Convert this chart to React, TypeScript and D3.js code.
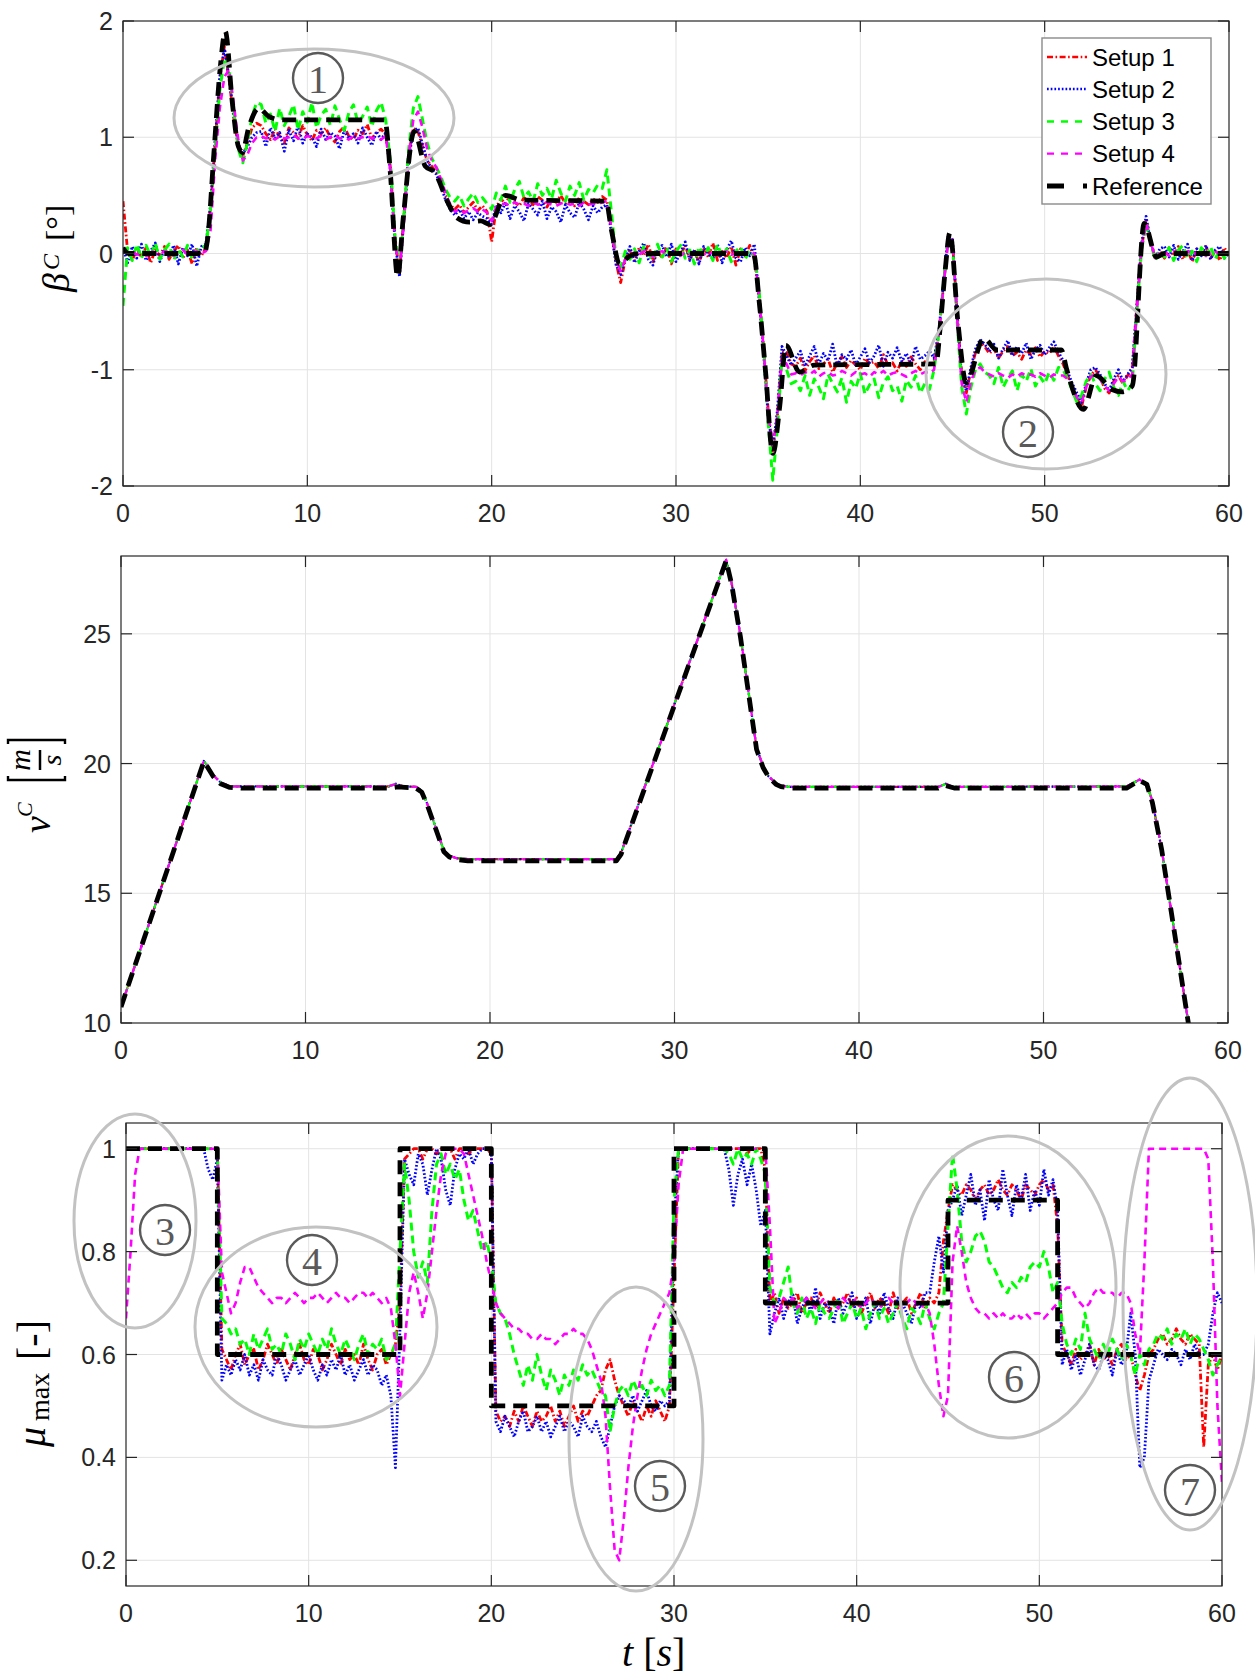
import React from "react";
import * as d3 from "d3";

// ---------------- DATA ----------------
const STEP = 0.25; // seconds between samples inside a piece
type Piece = [number, number[]]; // [start time, values]

const timeTicks = [0, 10, 20, 30, 40, 50, 60];
const betaTicks = [-2, -1, 0, 1, 2];
const speedTicks = [10, 15, 20, 25];
const muTicks = [0.2, 0.4, 0.6, 0.8, 1];
const seriesNames = ["Setup 1", "Setup 2", "Setup 3", "Setup 4", "Reference"];

// β^C of the setups, in hundredths of a degree
const betaS1: Piece[] = [
  [0, [45, 2, -6, 4, -3, 5, -8, 3, -2, 6, -5, 2, 7, -4, 3, -9, 5, -2]],
  [4.5, [5, 40, 95, 150, 178, 150, 118, 92, 84, 95, 108, 112]],
  [7.5, [110, 103, 98, 107, 101, 95, 108, 104, 99, 110, 102, 97, 106, 103, 108, 100, 96, 105, 109, 101, 98, 106, 103, 111, 99, 104, 107, 102]],
  [14.5, [75, 15, -18, 35, 85, 108, 105, 92, 80, 75, 70, 62, 50, 42]],
  [18, [38, 42, 35, 40, 44, 37, 41, 36]],
  [20, [10, 40, 47, 43, 50, 44, 41, 48, 45, 42, 49, 46, 40, 47, 44, 50, 43, 46, 41, 48, 45, 42, 47, 44, 49, 46]],
  [26.5, [20, -8, -25, -5]],
  [27.5, [3, -6, 5, -2, 8, -7, 2, -4, 6, -9, 4, -1, 7, -5, 3, -8, 5, -3, 9, -6, 2, -4, 6, -10, 4, -2, 7, -5, -35]],
  [34.75, [-80, -135, -170, -140, -85, -85, -95]],
  [36.5, [-97, -90, -101, -93, -88, -99, -95, -91, -102, -94, -89, -98, -92, -96, -100, -90, -95, -93, -99, -87, -96, -94, -101, -92, -97, -89, -95, -100, -93, -96]],
  [44, [-92, -70, -30, 12, 10, -50, -105, -120, -100, -85, -76, -80]],
  [47, [-86, -82, -90, -84, -80, -88, -85, -91, -83, -87, -81, -89, -84, -86, -80, -88]],
  [51, [-95, -105, -115, -125, -132, -115, -105, -100, -106, -116, -120, -110, -105, -112, -105, -100, -45, 5, 28, 12, -5, 2]],
  [56.5, [-4, 5, -2, 6, -5, 3, -7, 4, -1, 6, -4, 2, -6, 5, -2]],
];
const betaS2: Piece[] = [
  [0, [5, -8, 6, -4, 8, -6, 2, 9, -7, 4, -3, 7, -9, 5, -2, 8, -11, 6]],
  [4.5, [8, 42, 98, 152, 176, 152, 120, 94, 86, 92, 100, 104]],
  [7.5, [105, 92, 108, 99, 104, 88, 106, 97, 110, 95, 103, 100, 92, 107, 98, 104, 101, 90, 106, 99, 103, 95, 108, 100, 93, 105, 98, 104]],
  [14.5, [72, 12, -20, 32, 82, 105, 108, 94, 80, 73, 68, 58, 46, 38]],
  [18, [33, 38, 30, 36, 29, 35, 32, 30]],
  [20, [25, 42, 35, 44, 30, 41, 36, 28, 43, 38, 33, 45, 30, 40, 36, 27, 42, 35, 31, 44, 38, 29, 41, 35, 40, 42]],
  [26.5, [18, -10, -18, -5]],
  [27.5, [6, -8, 2, 9, -5, -10, 4, 7, -3, 8, -7, 1, 10, -6, 3, -9, 6, 0, -5, 8, -8, 3, 11, -4, -7, 5, -2, 8, -38]],
  [34.75, [-85, -140, -168, -135, -80, -88, -96]],
  [36.5, [-90, -84, -97, -88, -80, -95, -86, -92, -78, -98, -87, -91, -83, -96, -89, -82, -94, -88, -79, -97, -85, -90, -81, -93, -86, -95, -80, -91, -88, -84]],
  [44, [-90, -68, -28, 14, 12, -52, -108, -118, -98, -82, -74, -78]],
  [47, [-84, -78, -90, -82, -75, -88, -80, -86, -77, -91, -83, -79, -87, -81, -76, -85]],
  [51, [-92, -102, -112, -120, -128, -112, -100, -98, -104, -112, -118, -108, -100, -110, -104, -98, -45, 8, 32, 10, -4, 4]],
  [56.5, [6, -3, 7, -5, 2, 8, -6, 4, -2, 7, -5, 3, 6, -4, 1]],
];
const betaS3: Piece[] = [
  [0, [-45, 5, -6, 8, -4, 7, -2, 9, -5, 3, 8, -6, 4, -3, 7, -5, 2, 6]],
  [4.5, [6, 38, 90, 140, 168, 160, 125, 90, 78, 95, 118, 130]],
  [7.5, [128, 112, 120, 105, 125, 110, 118, 128, 106, 122, 113, 130, 108, 119, 124, 110, 127, 115, 106, 121, 128, 112, 118, 126, 109, 123, 130, 115]],
  [14.5, [80, 15, -15, 35, 90, 125, 135, 115, 95, 82, 74, 66, 55, 48]],
  [18, [45, 50, 41, 47, 52, 44, 48, 43]],
  [20, [38, 52, 46, 58, 44, 55, 62, 48, 53, 45, 60, 50, 56, 47, 63, 52, 45, 58, 50, 61, 46, 55, 52, 59, 56, 72]],
  [26.5, [35, -5, -12, 2]],
  [27.5, [-5, 4, -8, 6, 0, -6, 8, -3, 5, -7, 2, 7, -4, 3, -9, 6, -2, 5, -6, 8, -3, 4, -7, 2, 6, -5, 3, -2, -30]],
  [34.75, [-80, -145, -195, -150, -90, -100, -112]],
  [36.5, [-110, -118, -105, -122, -108, -115, -125, -104, -112, -119, -107, -128, -110, -116, -103, -121, -113, -108, -124, -111, -106, -118, -114, -127, -109, -115, -105, -120, -112, -117]],
  [44, [-100, -70, -28, 10, 8, -58, -115, -138, -115, -100, -95, -102]],
  [47, [-105, -112, -98, -115, -107, -101, -118, -104, -110, -99, -114, -106, -112, -102, -109, -98]],
  [51, [-100, -108, -118, -128, -122, -110, -104, -112, -118, -108, -102, -115, -122, -110, -118, -112, -50, 2, 26, 10, -6, 3]],
  [56.5, [-3, 5, -6, 3, 7, -4, 2, -7, 5, -2, 6, -5, 3, -4, 2]],
];
const betaS4: Piece[] = [
  [0, [3, 0, 2, -1, 1, -2, 3, 0, -1, 2, 1, -2, 0, 3, -1, 1, 2, 0]],
  [4.5, [2, 20, 80, 125, 152, 158, 130, 98, 80, 85, 95, 100]],
  [7.5, [101, 99, 100, 98, 101, 99, 100, 102, 99, 98, 101, 100, 99, 101, 98, 100, 102, 99, 100, 98, 101, 99, 100, 101, 99, 100, 98, 101]],
  [14.5, [72, 10, -15, 28, 85, 115, 122, 108, 90, 80, 74, 64, 52, 42]],
  [18, [36, 38, 35, 37, 39, 36, 38, 35]],
  [20, [28, 40, 42, 43, 41, 44, 42, 43, 41, 44, 42, 43, 44, 42, 41, 43, 44, 42, 43, 41, 44, 42, 43, 42, 44, 45]],
  [26.5, [22, -5, -15, -5]],
  [27.5, [-2, 1, -1, 2, 0, -3, 1, 2, -1, 0, 2, -2, 1, 0, -1, 2, -1, 1, 0, -2, 1, 2, -1, 0, 1, -1, 2, 0, -35]],
  [34.75, [-82, -138, -165, -140, -90, -95, -104]],
  [36.5, [-103, -105, -102, -104, -101, -106, -103, -102, -105, -104, -101, -103, -105, -102, -104, -103, -106, -102, -104, -101, -105, -103, -102, -104, -106, -103, -101, -104, -102, -103]],
  [44, [-100, -70, -30, 8, 12, -55, -112, -128, -110, -100, -98, -102]],
  [47, [-104, -106, -103, -105, -107, -104, -106, -103, -105, -104, -106, -103, -105, -107, -104, -105]],
  [51, [-105, -108, -114, -124, -128, -115, -106, -104, -108, -114, -118, -112, -106, -110, -108, -104, -48, 4, 26, 10, -4, 1]],
  [56.5, [1, -2, 2, 0, -1, 2, -1, 1, 0, -2, 1, 2, -1, 0, 1]],
];
// reference β^C [°]
const refBetaT = [0, 0.3, 4.4, 4.6, 4.93, 5.27, 5.55, 5.93, 6.26, 6.48, 6.8, 7.37, 7.9, 8.6, 14.2, 14.5, 14.9, 15.2, 15.8, 16.4, 16.9, 17.65, 18.1, 18.8, 19.4, 19.9, 20.75, 21.6, 26.2, 26.5, 26.95, 27.5, 28, 34.2, 34.53, 34.86, 35.25, 35.63, 35.96, 36.7, 37.5, 44.1, 44.35, 44.6, 44.86, 45.3, 45.74, 46.7, 47.4, 50.9, 51.2, 52.1, 52.8, 53.65, 54.2, 54.75, 55.4, 56.07, 56.5, 60];
const refBetaV = [0.05, 0, 0, 0.14, 0.86, 1.59, 1.91, 1.3, 0.92, 0.87, 1.07, 1.25, 1.18, 1.15, 1.15, 0.7, -0.2, 0.3, 1.05, 0.75, 0.7, 0.43, 0.31, 0.27, 0.28, 0.25, 0.5, 0.46, 0.45, 0.2, -0.09, -0.02, 0, 0, -0.44, -1.02, -1.72, -1.31, -0.79, -1.02, -0.96, -0.95, -0.6, -0.15, 0.18, -0.6, -1.11, -0.73, -0.83, -0.83, -1.0, -1.34, -1.05, -1.17, -1.19, -1.14, 0.26, -0.03, 0, 0];

// v^C [m/s]
const refSpeedT = [0, 4.49, 4.7, 5.0, 5.4, 5.9, 6.5, 14.5, 15.0, 16.0, 16.3, 16.6, 17.0, 17.5, 17.8, 18.2, 18.8, 26.85, 27.1, 32.8, 33.1, 33.57, 34.45, 34.8, 35.1, 35.5, 35.77, 36.3, 44.3, 44.7, 45.2, 54.5, 55.2, 55.6, 55.9, 56.4, 57.26, 57.85, 58.0];
const refSpeedV = [10.62, 20.08, 19.85, 19.5, 19.22, 19.08, 19.05, 19.05, 19.1, 19.05, 18.9, 18.4, 17.6, 16.6, 16.4, 16.3, 16.25, 16.25, 16.5, 27.82, 26.9, 24.9, 20.54, 19.85, 19.48, 19.2, 19.11, 19.05, 19.05, 19.15, 19.05, 19.05, 19.35, 19.2, 18.5, 16.7, 12.74, 10.0, 9.3];
const setupSpeedT = [0, 4.49, 4.7, 5.0, 5.4, 5.9, 14.5, 14.9, 15.3, 16.0, 16.3, 16.6, 17.0, 17.5, 17.8, 18.2, 18.8, 26.85, 27.1, 32.8, 33.1, 33.57, 34.45, 34.8, 35.1, 35.5, 35.77, 36.3, 44.3, 44.7, 45.1, 54.5, 55.2, 55.6, 55.9, 56.4, 57.26, 57.85, 58.0];
const setupSpeedV = [10.62, 20.1, 19.9, 19.55, 19.27, 19.12, 19.12, 19.22, 19.12, 19.1, 18.95, 18.45, 17.65, 16.65, 16.45, 16.35, 16.32, 16.32, 16.55, 27.85, 26.95, 24.95, 20.6, 19.9, 19.5, 19.25, 19.15, 19.1, 19.1, 19.22, 19.1, 19.12, 19.38, 19.22, 18.55, 16.72, 12.76, 10.0, 9.3];

// μ_max of the setups, in hundredths
const muS1: Piece[] = [
  [0, [100, 100, 100, 100, 100, 100, 100, 100, 100, 100, 100, 100, 100, 100, 100, 100, 100, 100, 100, 100, 100]],
  [5.25, [61, 59, 57, 60, 62, 58, 60, 61, 57, 59, 62, 60, 58, 61, 59, 57, 60, 62, 59, 58, 61, 60, 57, 59, 62, 60, 58, 61, 59, 60, 58, 62, 59, 57, 60, 61, 58, 60, 62]],
  [15, [70, 98, 99, 100, 100, 98, 100, 100, 99, 100, 100, 100, 98, 100, 100, 99, 100, 100, 100, 100, 99]],
  [20.25, [49, 47, 48, 46, 49, 47, 50, 48, 46, 49, 47, 48, 50, 47, 49, 46, 48, 50, 47, 49, 48, 50, 52, 53, 57]],
  [26.5, [59, 55, 52, 50, 48, 51, 49, 47, 50, 48, 51, 49, 47, 50]],
  [30, [75, 100, 100, 100, 100, 100, 100, 100, 100, 100, 100, 100, 100, 100, 100, 100, 99, 100, 100, 100, 96]],
  [35.25, [70, 72, 68, 71, 69, 70, 72, 68, 70, 71, 69, 72, 70, 68, 71, 69, 70, 72, 69, 71, 68, 70, 72, 69, 71, 70, 68, 72, 69, 70, 71, 68, 70, 72, 69, 71, 70, 72, 82]],
  [45, [88, 93, 92, 91, 93, 92, 90, 92, 93, 91, 92, 94, 92, 91, 93, 92, 90, 93, 92, 91, 93, 94, 92, 93, 85]],
  [51.25, [62, 60, 58, 61, 59, 60, 62, 58, 61, 59, 60, 58, 61, 62, 59, 60]],
  [55.25, [56, 53, 56, 60]],
  [56.25, [61, 63, 64, 62, 63, 65, 63, 62, 64, 63, 62]],
  [59, [42, 58, 60, 57, 60]],
];
const muS2: Piece[] = [
  [0, [100, 100, 100, 100, 100, 100, 100, 100, 100, 100, 100, 100, 100, 100, 100, 100, 100, 100, 96, 94, 98]],
  [5.25, [55, 58, 56, 59, 57, 60, 56, 58, 55, 59, 57, 56, 60, 58, 55, 57, 59, 56, 58, 60, 57, 55, 58, 56, 59, 57, 60, 56, 58, 55, 57, 59, 56, 58, 57, 54, 56, 52, 38]],
  [15, [65, 98, 95, 93, 99, 97, 91, 96, 100, 98, 92, 89, 96, 99, 98, 100, 97, 99, 100, 100, 100]],
  [20.25, [47, 45, 48, 46, 44, 47, 49, 45, 46, 48, 45, 47, 44, 46, 48, 45, 47, 46, 44, 48, 46, 45, 47, 44, 42]],
  [26.5, [46, 50, 52, 51, 50, 52, 49, 51, 53, 50, 49, 51, 50, 51]],
  [30, [85, 100, 100, 100, 100, 100, 100, 100, 100, 100, 100, 100, 96, 89, 95, 98, 93, 97, 92, 85, 88]],
  [35.25, [64, 68, 71, 67, 70, 72, 66, 69, 71, 68, 73, 67, 70, 69, 66, 71, 68, 70, 72, 67, 69, 71, 66, 70, 68, 72, 69, 67, 71, 70, 68, 66, 70, 69, 72, 72, 78, 83, 76]],
  [45, [88, 90, 93, 87, 91, 95, 89, 92, 86, 94, 90, 88, 96, 91, 87, 93, 90, 95, 88, 92, 89, 96, 91, 94, 88]],
  [51.25, [58, 61, 57, 60, 56, 59, 62, 58, 57, 60, 59, 56, 61, 58, 60, 68]],
  [55.25, [60, 38, 40, 55]],
  [56.25, [58, 61, 60, 59, 61, 60, 58, 61, 59, 62, 60]],
  [59, [60, 62, 68, 72, 70]],
];
const muS3: Piece[] = [
  [0, [100, 100, 100, 100, 100, 100, 100, 100, 100, 100, 100, 100, 100, 100, 100, 100, 100, 100, 100, 100, 100]],
  [5.25, [67, 66, 64, 65, 62, 63, 60, 64, 61, 63, 65, 61, 62, 60, 64, 62, 59, 63, 61, 64, 62, 60, 63, 61, 65, 62, 60, 63, 61, 59, 62, 64, 60, 62, 61, 63, 59, 60, 62]],
  [15, [80, 97, 90, 80, 75, 78, 74, 88, 97, 99, 95, 97, 94, 96, 90, 86, 88, 84, 80, 82, 78]],
  [20.25, [70, 68, 67, 64, 60, 57, 54, 58, 55, 60, 56, 53, 57, 55, 52, 56, 54, 57, 55, 58, 56, 57, 55, 53, 52]],
  [26.5, [45, 50, 53, 54, 52, 55, 53, 54, 52, 55, 53, 54, 52, 54]],
  [30, [90, 100, 100, 100, 100, 100, 100, 100, 100, 100, 100, 100, 99, 97, 100, 98, 99, 97, 100, 98, 95]],
  [35.25, [73, 70, 71, 74, 77, 70, 68, 71, 67, 69, 66, 70, 68, 67, 69, 71, 66, 68, 70, 67, 69, 65, 68, 70, 67, 69, 66, 68, 70, 67, 65, 69, 68, 66, 70, 67, 65, 68, 70]],
  [45, [85, 99, 92, 82, 78, 80, 83, 84, 82, 78, 77, 75, 73, 72, 74, 73, 75, 74, 77, 78, 77, 80, 77, 72, 74]],
  [51.25, [66, 62, 60, 63, 61, 68, 63, 61, 59, 62, 60, 63, 61, 59, 62, 60]],
  [55.25, [56, 60, 58, 61]],
  [56.25, [62, 64, 63, 65, 62, 64, 63, 65, 62, 64, 63]],
  [59, [61, 59, 56, 58, 60]],
];
const muS4: Piece[] = [
  [0, [67, 80, 95, 100, 100, 100, 100, 100, 100, 100, 100, 100, 100, 100, 100, 100, 100, 100, 100, 100, 100]],
  [5.25, [76, 72, 68, 70, 74, 77, 77, 75, 73, 72, 71, 70, 71, 71, 70, 71, 72, 71, 70, 71, 71, 72, 71, 70, 71, 72, 71, 71, 70, 71, 72, 72, 71, 72, 71, 70, 71, 69, 62]],
  [15, [52, 62, 72, 76, 72, 67, 72, 80, 88, 95, 99, 100, 100, 100, 99, 95, 91, 87, 83, 78, 74]],
  [20.25, [70, 68, 67, 66, 65, 65, 64, 64, 63, 63, 64, 63, 63, 62, 63, 64, 64, 65, 64, 64, 63, 61, 58, 55, 48]],
  [26.5, [34, 22, 20, 28, 38, 46, 52, 57, 61, 64, 66, 68, 70, 72]],
  [30, [78, 93, 100, 100, 100, 100, 100, 100, 100, 100, 100, 100, 100, 100, 100, 100, 100, 100, 100, 100, 100]],
  [35.25, [85, 66, 68, 71, 70, 71, 69, 70, 71, 70, 69, 70, 71, 70, 70, 69, 71, 70, 70, 71, 69, 70, 71, 70, 69, 70, 71, 70, 70, 69, 70, 71, 70, 69, 70, 68, 62, 54, 48]],
  [45, [52, 78, 85, 80, 74, 71, 69, 68, 68, 67, 68, 67, 68, 67, 67, 68, 67, 68, 67, 68, 68, 67, 68, 69, 70]],
  [51.25, [72, 73, 73, 71, 70, 69, 70, 72, 73, 72, 72, 72, 71, 72, 72, 70]],
  [55.25, [64, 60, 78, 100]],
  [56.25, [100, 100, 100, 100, 100, 100, 100, 100, 100, 100, 100]],
  [59, [100, 98, 78, 50, 35]],
];
// reference μ_max (step profile)
const refMuT = [0, 5, 5, 15, 15, 20, 20, 30, 30, 35, 35, 45, 45, 51, 51, 60];
const refMuV = [1, 1, 0.6, 0.6, 1, 1, 0.5, 0.5, 1, 1, 0.7, 0.7, 0.9, 0.9, 0.6, 0.6];

// annotation labels
const markLabels = ["1", "2", "3", "4", "5", "6", "7"];

// ---------------- HELPERS ----------------
type Pt = [number, number];
function expand(pieces: Piece[], unit: number): Pt[] {
  const out: Pt[] = [];
  pieces.forEach(([t0, vals]) => vals.forEach((v, k) => out.push([t0 + k * STEP, v * unit])));
  return out;
}
function zipT(t: number[], v: number[]): Pt[] {
  return t.map((tt, i) => [tt, v[i]] as Pt);
}

const STYLES = [
  { color: "#ff0000", width: 2.8, dash: "6,2.5,1.6,2.5" },
  { color: "#0000ff", width: 2.8, dash: "1.7,2" },
  { color: "#00ff00", width: 3, dash: "8,5" },
  { color: "#ff00ff", width: 2.6, dash: "7,5" },
  { color: "#000000", width: 4.8, dash: "14,8" },
];

const AX = "#262626";
const GRID = "#e3e3e3";
const SANS = "'Liberation Sans', Arial, sans-serif";
const SERIF = "'Liberation Serif', 'Times New Roman', serif";
const TICK_FS = 25;
const TICK_LEN = 11;

interface PanelProps {
  id: string;
  x0: number; x1: number; y0: number; y1: number;
  yDomain: [number, number];
  yTicks: number[];
  series: { pts: Pt[]; style: number; curve?: boolean; width?: number }[];
}

function Panel({ id, x0, x1, y0, y1, yDomain, yTicks, series }: PanelProps) {
  const xs = d3.scaleLinear().domain([0, 60]).range([x0, x1]);
  const ys = d3.scaleLinear().domain(yDomain).range([y1, y0]);
  const lineLin = d3.line<Pt>().x((d) => xs(d[0])).y((d) => ys(d[1]));
  const lineCurve = d3.line<Pt>().x((d) => xs(d[0])).y((d) => ys(d[1])).curve(d3.curveMonotoneX);
  const eps = 1e-9;
  return (
    <g>
      <defs>
        <clipPath id={id}>
          <rect x={x0} y={y0} width={x1 - x0} height={y1 - y0} />
        </clipPath>
      </defs>
      <rect x={x0} y={y0} width={x1 - x0} height={y1 - y0} fill="#fff" />
      {timeTicks.filter((t) => t > 0 + eps && t < 60 - eps).map((t) => (
        <line key={"gx" + t} x1={xs(t)} x2={xs(t)} y1={y0} y2={y1} stroke={GRID} strokeWidth={1} />
      ))}
      {yTicks.filter((v) => v > yDomain[0] + eps && v < yDomain[1] - eps).map((v) => (
        <line key={"gy" + v} x1={x0} x2={x1} y1={ys(v)} y2={ys(v)} stroke={GRID} strokeWidth={1} />
      ))}
      <g clipPath={`url(#${id})`}>
        {series.map((s, i) => {
          const st = STYLES[s.style];
          const gen = s.curve ? lineCurve : lineLin;
          return (
            <path key={i} d={gen(s.pts) || ""} fill="none" stroke={st.color} strokeWidth={s.width ?? st.width}
              strokeDasharray={st.dash} strokeLinejoin="round" />
          );
        })}
      </g>
      <rect x={x0} y={y0} width={x1 - x0} height={y1 - y0} fill="none" stroke={AX} strokeWidth={1.2} />
      {timeTicks.map((t) => (
        <g key={"tx" + t}>
          <line x1={xs(t)} x2={xs(t)} y1={y1} y2={y1 - TICK_LEN} stroke={AX} strokeWidth={1.2} />
          <line x1={xs(t)} x2={xs(t)} y1={y0} y2={y0 + TICK_LEN} stroke={AX} strokeWidth={1.2} />
          <text x={xs(t)} y={y1 + 27} textAnchor="middle" dominantBaseline="central" fontFamily={SANS}
            fontSize={TICK_FS} fill={AX}>{String(t)}</text>
        </g>
      ))}
      {yTicks.map((v) => (
        <g key={"ty" + v}>
          <line x1={x0} x2={x0 + TICK_LEN} y1={ys(v)} y2={ys(v)} stroke={AX} strokeWidth={1.2} />
          <line x1={x1} x2={x1 - TICK_LEN} y1={ys(v)} y2={ys(v)} stroke={AX} strokeWidth={1.2} />
          <text x={x0 - 10} y={ys(v)} textAnchor="end" dominantBaseline="central" fontFamily={SANS}
            fontSize={TICK_FS} fill={AX}>{String(v)}</text>
        </g>
      ))}
    </g>
  );
}

function Legend() {
  const x = 1042, y = 38, w = 169, h = 166;
  const rows = [57, 89, 121.5, 153.6, 186];
  return (
    <g>
      <rect x={x} y={y} width={w} height={h} fill="#fff" stroke="#8a8a8a" strokeWidth={1.4} />
      {seriesNames.map((n, i) => {
        const st = STYLES[i];
        const dash = i === 4 ? "17,19" : i === 2 || i === 3 ? "7,7" : st.dash;
        return (
          <g key={n}>
            <line x1={1047} x2={1087} y1={rows[i]} y2={rows[i]} stroke={st.color}
              strokeWidth={i === 4 ? 4.8 : 2.3} strokeDasharray={dash} />
            <text x={1092} y={rows[i]} dominantBaseline="central" fontFamily={SANS} fontSize={24}
              fill="#000">{n}</text>
          </g>
        );
      })}
    </g>
  );
}

const ellipses = [
  { cx: 314, cy: 118, rx: 140, ry: 69 },
  { cx: 1046, cy: 374, rx: 120, ry: 95 },
  { cx: 135, cy: 1221, rx: 61, ry: 107 },
  { cx: 316, cy: 1327, rx: 121, ry: 100 },
  { cx: 636, cy: 1439, rx: 67, ry: 152 },
  { cx: 1008, cy: 1287, rx: 108, ry: 151 },
  { cx: 1190, cy: 1304, rx: 67, ry: 226 },
];
const marks = [
  { x: 318, y: 78 },
  { x: 1028, y: 432 },
  { x: 165, y: 1230 },
  { x: 312, y: 1260 },
  { x: 660, y: 1486 },
  { x: 1014, y: 1377 },
  { x: 1190, y: 1490 },
];

export default function App() {
  const refBeta = zipT(refBetaT, refBetaV);
  const refSpeed = zipT(refSpeedT, refSpeedV);
  const setupSpeed = zipT(setupSpeedT, setupSpeedV);
  const refMu = zipT(refMuT, refMuV);
  return (
    <svg width={1255} height={1680} viewBox="0 0 1255 1680" style={{ display: "block", background: "#fff" }}>
      <style>{`body{margin:0;}`}</style>
      <rect x={0} y={0} width={1255} height={1680} fill="#fff" />
      <Panel id="c1" x0={123} x1={1229} y0={21} y1={486} yDomain={[-2, 2]} yTicks={betaTicks}
        series={[
          { pts: expand(betaS1, 0.01), style: 0 },
          { pts: expand(betaS2, 0.01), style: 1 },
          { pts: expand(betaS3, 0.01), style: 2 },
          { pts: expand(betaS4, 0.01), style: 3 },
          { pts: refBeta, style: 4, curve: true },
        ]} />
      <Panel id="c2" x0={121} x1={1228} y0={556} y1={1023} yDomain={[10, 28]} yTicks={speedTicks}
        series={[
          { pts: setupSpeed, style: 0, width: 2.2 },
          { pts: setupSpeed, style: 1, width: 2.2 },
          { pts: setupSpeed, style: 2, width: 2.2 },
          { pts: setupSpeed, style: 3, width: 2.2 },
          { pts: refSpeed, style: 4 },
        ]} />
      <Panel id="c3" x0={126} x1={1222} y0={1123} y1={1586} yDomain={[0.15, 1.05]} yTicks={muTicks}
        series={[
          { pts: expand(muS1, 0.01), style: 0 },
          { pts: expand(muS2, 0.01), style: 1 },
          { pts: expand(muS3, 0.01), style: 2 },
          { pts: expand(muS4, 0.01), style: 3 },
          { pts: refMu, style: 4 },
        ]} />
      <Legend />

      {/* annotations */}
      {ellipses.map((e, i) => (
        <ellipse key={"e" + i} cx={e.cx} cy={e.cy} rx={e.rx} ry={e.ry} fill="none" stroke="#c2c2c2" strokeWidth={3} />
      ))}
      {marks.map((m, i) => (
        <g key={"m" + i}>
          <circle cx={m.x} cy={m.y} r={25} fill="none" stroke="#5a5a5a" strokeWidth={2.4} />
          <text x={m.x} y={m.y + 1} textAnchor="middle" dominantBaseline="central" fontFamily={SERIF}
            fontSize={40} fill="#5a5a5a">{markLabels[i]}</text>
        </g>
      ))}

      {/* y labels */}
      <g transform="translate(69,250) rotate(-90)" fontFamily={SERIF} fill="#000">
        <text x={-42} y={0} fontSize={38} fontStyle="italic">β</text>
        <text x={-20} y={-10} fontSize={24} fontStyle="italic">C</text>
        <text x={9} y={0} fontSize={34}>[°]</text>
      </g>
      <g transform="translate(50,786) rotate(-90)" fontFamily={SERIF} fill="#000">
        <text x={-47} y={0} fontSize={38} fontStyle="italic">v</text>
        <text x={-31} y={-18} fontSize={22} fontStyle="italic">C</text>
        <path d="M10,-42H6V15H10" fill="none" stroke="#000" strokeWidth={2.4} />
        <path d="M42,-42H46V15H42" fill="none" stroke="#000" strokeWidth={2.4} />
        <text x={26} y={-20} textAnchor="middle" fontSize={30} fontStyle="italic">m</text>
        <line x1={16} x2={36} y1={-10} y2={-10} stroke="#000" strokeWidth={2.5} />
        <text x={26} y={11} textAnchor="middle" fontSize={28} fontStyle="italic">s</text>
      </g>
      <g transform="translate(45,1384) rotate(-90)" fontFamily={SERIF} fill="#000">
        <text x={-63} y={0} fontSize={40} fontStyle="italic">μ</text>
        <text x={-37} y={4} fontSize={28}>max</text>
        <text x={24} y={0} fontSize={40}>[-]</text>
      </g>
      <text x={622} y={1666} fontFamily={SERIF} fontSize={40} fill="#000">
        <tspan fontStyle="italic">t</tspan>
        <tspan> [</tspan>
        <tspan fontStyle="italic">s</tspan>
        <tspan>]</tspan>
      </text>
    </svg>
  );
}
